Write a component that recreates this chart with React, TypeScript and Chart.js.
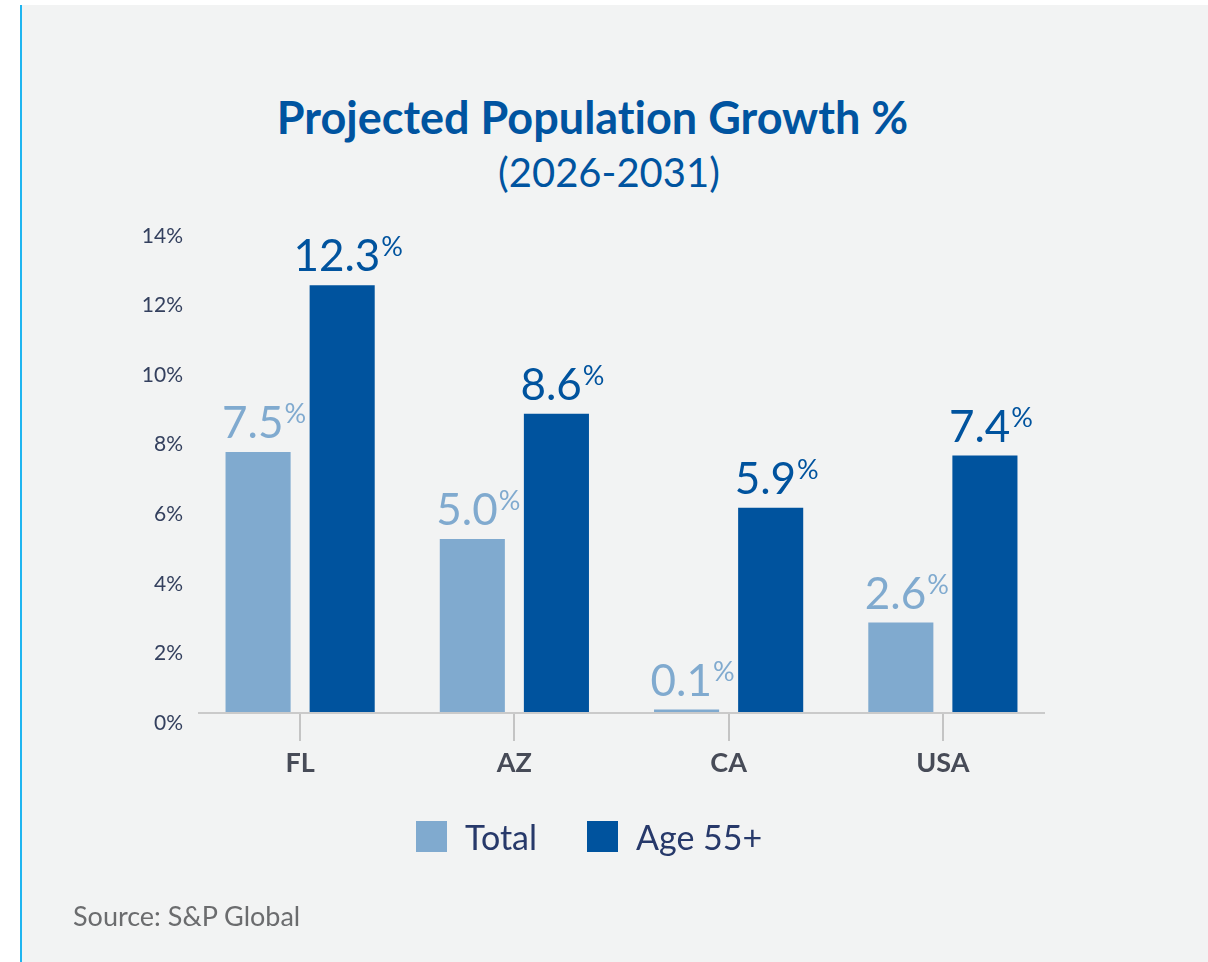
import React, { useEffect, useRef } from "react";
import { Chart, registerables } from "chart.js";

Chart.register(...registerables);

const categories = ["FL", "AZ", "CA", "USA"];
const totalValues = [7.5, 5.0, 0.1, 2.6];
const age55Values = [12.3, 8.6, 5.9, 7.4];
const seriesNames = ["Total", "Age 55+"];
const titleText = "Projected Population Growth %";
const subtitleText = "(2026-2031)";
const sourceText = "Source: S&P Global";
const yMin = 0;
const yMax = 14;
const yStep = 2;

const LIGHT = "#80aacf";
const DARK = "#00539e";
const FONT = "Lato, 'Noto Sans', sans-serif";

const valueLabelPlugin = {
  id: "valueLabels",
  afterDatasetsDraw(chart: any) {
    const ctx = chart.ctx;
    chart.data.datasets.forEach((ds: any, di: number) => {
      const meta = chart.getDatasetMeta(di);
      meta.data.forEach((el: any, i: number) => {
        const v = ds.data[i] as number;
        const num = v.toFixed(1);
        ctx.save();
        ctx.fillStyle = ds.backgroundColor;
        ctx.textBaseline = "alphabetic";
        ctx.textAlign = "left";
        ctx.font = `400 44px ${FONT}`;
        const nw = ctx.measureText(num).width;
        ctx.font = `400 27px ${FONT}`;
        const pw = ctx.measureText("%").width;
        const total = nw + 1 + pw;
        const x0 = el.x - total / 2 + 6;
        const base = el.y - 14;
        ctx.font = `400 44px ${FONT}`;
        ctx.fillText(num, x0, base);
        ctx.font = `400 27px ${FONT}`;
        ctx.fillText("%", x0 + nw + 1, base - 15);
        ctx.restore();
      });
    });
  },
};

const axisLinePlugin = {
  id: "axisLine",
  afterDraw(chart: any) {
    const { ctx, chartArea } = chart;
    ctx.save();
    ctx.strokeStyle = "#cacaca";
    ctx.lineWidth = 2;
    ctx.beginPath();
    ctx.moveTo(chartArea.left + 5, chartArea.bottom);
    ctx.lineTo(chartArea.right - 5, chartArea.bottom);
    ctx.stroke();
    ctx.restore();
  },
};

function ChartCanvas() {
  const ref = useRef<HTMLCanvasElement | null>(null);
  useEffect(() => {
    if (!ref.current) return;
    const chart = new Chart(ref.current, {
      type: "bar",
      data: {
        labels: categories,
        datasets: [
          {
            label: seriesNames[0],
            data: totalValues,
            backgroundColor: LIGHT,
            borderWidth: 0,
            categoryPercentage: 0.785,
            barPercentage: 0.774,
          },
          {
            label: seriesNames[1],
            data: age55Values,
            backgroundColor: DARK,
            borderWidth: 0,
            categoryPercentage: 0.785,
            barPercentage: 0.774,
          },
        ],
      },
      options: {
        responsive: false,
        animation: false,
        events: [],
        layout: { padding: { left: 100, right: 158, top: 226, bottom: 189 } },
        plugins: {
          legend: { display: false },
          title: { display: false },
          tooltip: { enabled: false },
        },
        scales: {
          x: {
            offset: true,
            grid: {
              display: true,
              drawOnChartArea: false,
              drawTicks: true,
              tickLength: 28,
              offset: false,
              color: "#c4c4c4",
              lineWidth: 2,
            },
            border: { display: false },
            ticks: {
              padding: 6,
              color: "#474b57",
              font: { family: FONT, size: 27, weight: "bold" },
            },
            afterFit: (scale: any) => {
              scale.height = 60;
            },
          },
          y: {
            min: yMin,
            max: yMax,
            grid: { display: false, drawTicks: false },
            border: { display: false },
            ticks: {
              stepSize: yStep,
              padding: 10,
              labelOffset: 10,
              color: "#34405e",
              font: { family: FONT, size: 21 },
              callback: (v: any) => `${v}%`,
            },
            afterFit: (scale: any) => {
              scale.width = 93;
            },
          },
        },
      },
      plugins: [valueLabelPlugin, axisLinePlugin],
    });
    return () => chart.destroy();
  }, []);
  return (
    <canvas
      ref={ref}
      width={1208}
      height={962}
      style={{ position: "absolute", left: 0, top: 0, width: 1208, height: 962 }}
    />
  );
}

const colors = [LIGHT, DARK];

export default function App() {
  return (
    <div
      style={{
        position: "absolute",
        left: 0,
        top: 0,
        width: 1208,
        height: 962,
        background: "#ffffff",
        overflow: "hidden",
        fontFamily: FONT,
        fontVariantLigatures: "none",
      }}
    >
      <div
        style={{
          position: "absolute",
          left: 21,
          top: 5,
          width: 1187,
          height: 957,
          background: "#f2f3f3",
        }}
      />
      <div
        style={{
          position: "absolute",
          left: 20,
          top: 5,
          width: 1.5,
          height: 957,
          background: "#1fb5f0",
        }}
      />
      <div
        style={{
          position: "absolute",
          left: 0,
          top: 95,
          width: 1185,
          textAlign: "center",
          fontSize: 45,
          lineHeight: "45px",
          fontWeight: 700,
          color: "#0054a0",
          whiteSpace: "nowrap",
        }}
      >
        {titleText}
      </div>
      <div
        style={{
          position: "absolute",
          left: 0,
          top: 151.5,
          width: 1218,
          textAlign: "center",
          fontSize: 40,
          lineHeight: "40px",
          fontWeight: 400,
          color: "#0054a0",
          whiteSpace: "nowrap",
        }}
      >
        {subtitleText}
      </div>
      <ChartCanvas />
      {seriesNames.map((name, i) => (
        <div
          key={name}
          style={{
            position: "absolute",
            left: i === 0 ? 416 : 587,
            top: 821,
            height: 31,
            display: "flex",
            alignItems: "center",
            whiteSpace: "nowrap",
          }}
        >
          <div style={{ width: 31, height: 31, background: colors[i] }} />
          <div
            style={{
              marginLeft: 18,
              fontSize: 34,
              lineHeight: "34px",
              color: "#27396a",
            }}
          >
            {name}
          </div>
        </div>
      ))}
      <div
        style={{
          position: "absolute",
          left: 73,
          top: 902,
          fontSize: 27,
          lineHeight: "27px",
          color: "#6b6c6e",
          whiteSpace: "nowrap",
        }}
      >
        {sourceText}
      </div>
    </div>
  );
}
